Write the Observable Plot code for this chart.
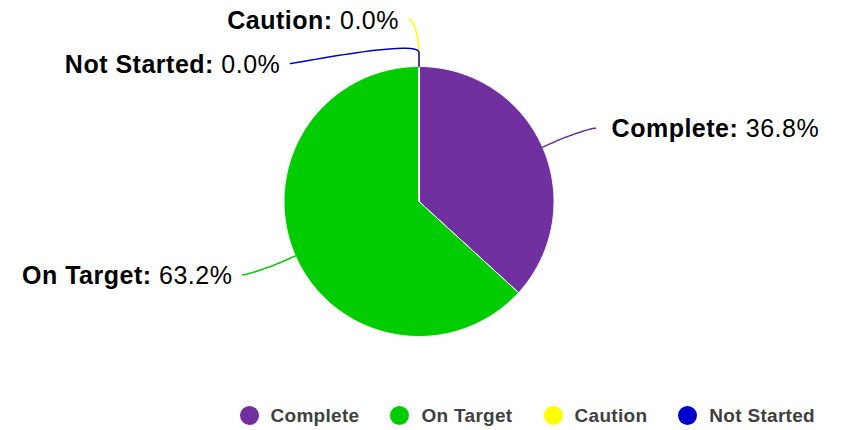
<!DOCTYPE html>
<html><head><meta charset="utf-8">
<script src="https://cdn.jsdelivr.net/npm/d3@7"></script>
<script src="https://cdn.jsdelivr.net/npm/@observablehq/plot@0.6"></script>
<style>
body{margin:0;background:#fff;}
#chart svg{font-family:"Liberation Sans",Arial,sans-serif !important;}
#chart svg text{letter-spacing:0.5px;}
#chart svg tspan.nm{font-weight:bold;}
#legend{width:842px;}
#legend .lg-swatches{font-family:"Liberation Sans",Arial,sans-serif;font-size:19px;font-weight:bold;color:#404040;letter-spacing:0.3px;margin:0 !important;min-height:35px !important;height:35px;padding-left:239.5px;box-sizing:border-box;flex-wrap:nowrap !important;white-space:nowrap;}
#legend .lg-swatch{margin-right:31px !important;flex:none;}
#legend .lg-swatch > svg{margin-right:12px !important;overflow:hidden !important;border-radius:50%;}
</style></head><body><div id="chart"></div><div id="legend"></div><script>
// ---- data ----
const categories = ["Complete", "On Target", "Caution", "Not Started"];
const values = [36.8, 63.2, 0.0, 0.0];
const colors = ["#7030A0", "#00CC00", "#FFFF00", "#0000CC"];

// ---- layout ----
const W = 842, H = 398, cx = 418.5, cy = 201, r = 135;
const labelR = 182, minGap = 44, connOffset = 14, connPad = 10;

const arcs = d3.pie().sort(null).value(d => d.value)(
  categories.map((k, i) => ({key: k, value: values[i]}))
);

// slice polygons sampled from pie angles
const slicePts = arcs.flatMap(p => {
  const key = p.data.key;
  const n = Math.max(2, Math.ceil((p.endAngle - p.startAngle) / 0.01));
  const pts = [{key, x: cx, y: cy}];
  for (let i = 0; i <= n; i++) {
    const a = p.startAngle + (p.endAngle - p.startAngle) * i / n;
    pts.push({key, x: cx + r * Math.sin(a), y: cy - r * Math.cos(a)});
  }
  pts.push({key, x: cx, y: cy});
  return pts;
});

// labels with simple distribution per side
const labels = arcs.map(p => {
  const mid = (p.startAngle + p.endAngle) / 2;
  const side = Math.sin(mid) > 1e-6 ? 1 : -1;
  return {key: p.data.key, value: p.data.value, mid, side, y: cy - labelR * Math.cos(mid)};
});
for (const s of [1, -1]) {
  const group = labels.filter(d => d.side === s).sort((a, b) => a.y - b.y);
  for (let i = 1; i < group.length; i++) {
    if (group[i].y < group[i - 1].y + minGap) group[i].y = group[i - 1].y + minGap;
  }
}
labels.forEach(d => {
  const dy = d.y - cy;
  d.lx = cx + d.side * Math.sqrt(Math.max(0, labelR * labelR - dy * dy));
  d.cx = d.lx + d.side * connPad;
  d.tx = d.cx + d.side * (d.side > 0 ? 16 : 10);
  d.text = `${d.key}: ${d.value.toFixed(1)}%`;
});

// connectors (soft curved leader lines)
const connPts = labels.flatMap(d => {
  const sx = Math.sin(d.mid), sy = -Math.cos(d.mid);
  const touch = [cx + r * sx, cy + r * sy];
  const brk = [cx + (r + connOffset) * sx, cy + (r + connOffset) * sy];
  const P0 = [d.cx, d.y];
  const P1 = [d.cx - d.side * 5, d.y];
  const P2 = [2 * brk[0] - touch[0], 2 * brk[1] - touch[1]];
  const P3 = brk;
  const pts = [];
  const n = 30;
  for (let i = 0; i <= n; i++) {
    const t = i / n, u = 1 - t;
    pts.push({
      key: d.key,
      x: u*u*u*P0[0] + 3*u*u*t*P1[0] + 3*u*t*t*P2[0] + t*t*t*P3[0],
      y: u*u*u*P0[1] + 3*u*u*t*P1[1] + 3*u*t*t*P2[1] + t*t*t*P3[1]
    });
  }
  pts.push({key: d.key, x: touch[0], y: touch[1]});
  return pts;
});

const colorScale = {type: "ordinal", domain: categories, range: colors};

const chart = Plot.plot({
  width: W, height: H,
  margin: 0,
  x: {domain: [0, W], range: [0, W], axis: null},
  y: {domain: [0, H], range: [0, H], axis: null},
  color: colorScale,
  marks: [
    Plot.line(slicePts, {x: "x", y: "y", z: "key", fill: "key", stroke: "white", strokeWidth: 1, strokeLinejoin: "round"}),
    Plot.line(connPts, {x: "x", y: "y", z: "key", stroke: "key", strokeWidth: 1.5}),
    Plot.text(labels, {filter: d => d.side > 0, x: "tx", y: "y", text: "text", textAnchor: "start", fontSize: 25, fill: "black", dy: 1}),
    Plot.text(labels, {filter: d => d.side < 0, x: "tx", y: "y", text: "text", textAnchor: "end", fontSize: 25, fill: "black", dy: 1})
  ]
});

// bold category name, normal value
const ns = "http://www.w3.org/2000/svg";
chart.querySelectorAll("text").forEach(t => {
  const s = t.textContent, i = s.indexOf(": ");
  if (i < 0) return;
  while (t.firstChild) t.removeChild(t.firstChild);
  const a = document.createElementNS(ns, "tspan");
  a.setAttribute("class", "nm");
  a.setAttribute("font-weight", "bold");
  a.textContent = s.slice(0, i + 1);
  const b = document.createElementNS(ns, "tspan");
  b.textContent = " " + s.slice(i + 2);
  t.appendChild(a); t.appendChild(b);
});
document.getElementById("chart").appendChild(chart);

const legend = Plot.legend({
  color: colorScale, legend: "swatches",
  swatchSize: 19, className: "lg"
});
document.getElementById("legend").appendChild(legend);
</script></body></html>
